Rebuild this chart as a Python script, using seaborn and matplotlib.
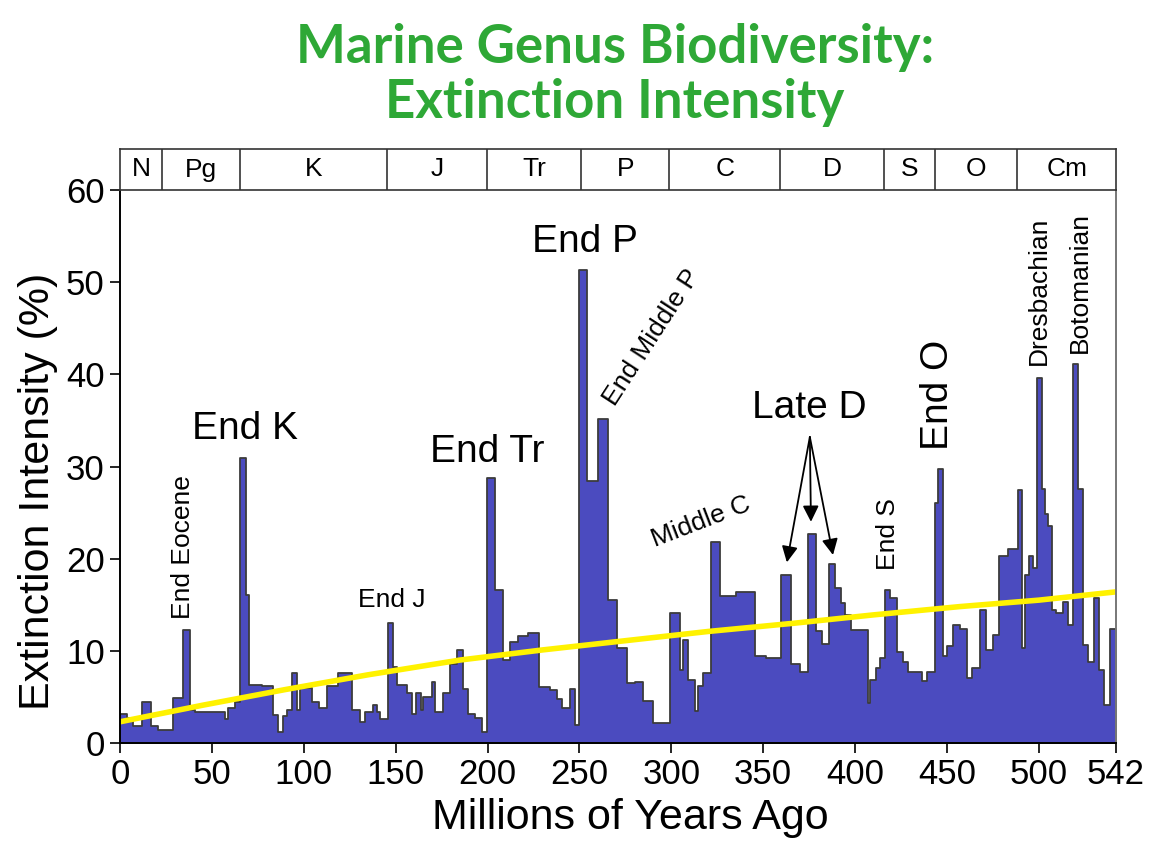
import matplotlib
matplotlib.use("Agg")
import matplotlib.pyplot as plt
import seaborn as sns
import numpy as np

# Stage boundaries (Ma) and extinction intensity (%) per interval
stage_edges = [0, 3.6, 7.3, 11.8, 16.7, 20.9, 29, 34.5, 38.1, 40.8, 57.1, 59, 62.6, 65.3,
               68.6, 70.4, 77.1, 83.4, 86, 88.9, 90.7, 93.4, 96.1, 97.9, 104.3, 108.4, 112.4,
               118.8, 126, 130.6, 133.3, 137.8, 139.7, 141.5, 145.6, 148.7, 150.9, 156, 158.7,
               161.1, 163.6, 165.1, 169.6, 171.4, 175.9, 179.5, 183.2, 186.8, 189.5, 193.1,
               196.8, 199.5, 204, 208.6, 212.2, 216.8, 222.2, 228.2, 234, 237.9, 240.4, 244.9,
               247.6, 250, 254.3, 260.3, 265.7, 270.2, 275.7, 280, 284.7, 290.2, 299.2, 304.7,
               306.5, 309, 312.7, 314.5, 317.2, 321.8, 326.3, 335.4, 345.4, 351.8, 359.6, 364.9,
               370, 374.5, 378.7, 382.1, 385.7, 389, 392.1, 394.4, 398, 407.1, 408.4, 411.3,
               413.5, 416.2, 419, 423, 426.2, 428.9, 436.2, 439, 443.5, 445.3, 447.7, 449.9,
               453.5, 457, 460.7, 463.4, 467.9, 471.5, 475.2, 478.4, 483.3, 488.8, 490.6, 492.4,
               494.8, 497, 499.1, 501.5, 503.3, 504.8, 507, 509.3, 513.3, 516, 518.8, 521.5,
               524.3, 527, 530.1, 532.5, 535.2, 538.5, 542]
intensity = [3.2, 2.7, 1.8, 4.5, 1.8, 1.4, 4.85, 12.3, 3.6, 3.4, 2.6, 3.8, 4.4,
             30.9, 16.1, 6.3, 6.2, 3.0, 1.2, 2.9, 3.6, 7.6, 3.6, 6.0, 4.5, 3.8,
             6.2, 7.6, 3.6, 2.3, 3.4, 4.1, 3.4, 2.6, 13.0, 8.3, 6.3, 5.4,
             3.2, 5.4, 3.6, 5.0, 6.6, 3.4, 5.4, 8.6, 10.1, 5.9, 3.2,
             2.7, 1.2, 28.7, 16.6, 9.0, 11.0, 11.6, 11.9, 6.1, 5.8, 4.8, 3.8,
             5.9, 2.0, 51.3, 28.4, 35.2, 15.5, 10.3, 6.5, 6.6, 4.6, 2.2, 14.1,
             7.9, 11.2, 6.8, 3.5, 6.2, 7.6, 21.8, 15.9, 16.4, 9.4, 9.2, 18.2,
             8.6, 7.7, 22.7, 12.1, 10.7, 19.4, 16.8, 15.2, 13.9, 12.3, 4.3, 6.8,
             8.1, 9.2, 16.6, 15.7, 9.9, 8.8, 7.7, 6.7, 7.7, 26.0, 29.7, 9.4,
             10.5, 12.8, 12.4, 7.0, 8.1, 14.4, 10.1, 11.7, 20.3, 21.1, 27.4, 10.3,
             18.2, 20.3, 19.0, 39.6, 27.6, 24.9, 23.5, 14.4, 14.1, 15.3, 12.8, 41.1,
             27.6, 10.6, 8.8, 15.7, 7.9, 4.1, 12.4]
assert len(stage_edges) == len(intensity) + 1

# Yellow trend line
trend_age = [0, 45, 90, 135, 185, 230, 275, 320, 367, 410, 457, 500, 542]
trend_val = [2.3, 4.1, 5.8, 7.4, 9.0, 10.1, 11.1, 12.1, 13.0, 13.9, 14.8, 15.5, 16.4]

# Geologic periods
periods = ["N", "Pg", "K", "J", "Tr", "P", "C", "D", "S", "O", "Cm"]
period_edges = [0, 23, 65.5, 145.5, 199.6, 251, 299, 359.2, 416, 443.7, 488.3, 542]

xticks = [0, 50, 100, 150, 200, 250, 300, 350, 400, 450, 500, 542]
yticks = [0, 10, 20, 30, 40, 50, 60]

sns.set_style("ticks")
plt.rcParams['font.family'] = ['Liberation Sans', 'DejaVu Sans']
plt.rcParams.update({"text.color": "black", "axes.labelcolor": "black",
                     "xtick.color": "black", "ytick.color": "black"})

W, H = 1150, 843
fig = plt.figure(figsize=(W / 100, H / 100), dpi=100)
ax = fig.add_axes([120 / W, 1 - 743 / H, 996 / W, 553 / H])
pax = fig.add_axes([120 / W, 1 - 190 / H, 996 / W, 41 / H])

mids = [(a + b) / 2 for a, b in zip(stage_edges[:-1], stage_edges[1:])]
sns.histplot(x=mids, weights=intensity, bins=stage_edges, element="step", fill=True,
             color="#4b4bbf", edgecolor="#3c3c3c", linewidth=1.3, alpha=1, ax=ax)
sns.lineplot(x=trend_age, y=trend_val, color="#fff200", linewidth=4, ax=ax)

ax.set_xlim(0, 542)
ax.set_ylim(0, 60)
ax.set_xticks(xticks)
ax.set_yticks(yticks)
ax.tick_params(direction="out", length=7, width=1.2, labelsize=25, pad=4)
ax.set_xlabel("Millions of Years Ago", fontsize=31)
ax.set_ylabel("Extinction Intensity (%)", fontsize=31)
ax.xaxis.set_label_coords(0.512, -0.1)
ax.yaxis.set_label_coords(-0.062, 0.455)
for s in ["left", "bottom"]:
    ax.spines[s].set_color("black")
    ax.spines[s].set_linewidth(1.4)
ax.spines["top"].set_visible(False)
ax.spines["right"].set_color("#777777")
ax.spines["right"].set_linewidth(1.4)

# period bar
pax.set_xlim(0, 542)
pax.set_ylim(0, 1)
pax.set_xticks([])
pax.set_yticks([])
for s in pax.spines.values():
    s.set_color("#333333")
    s.set_linewidth(1.2)
for i, name in enumerate(periods):
    a, b = period_edges[i], period_edges[i + 1]
    if i > 0:
        pax.axvline(a, color="#333333", lw=1.2)
    pax.text((a + b) / 2, 0.5, name, ha="center", va="center", fontsize=19)

# annotations
big = 28
small = 19
ax.text(68, 33.0, "End K", ha="center", va="baseline", fontsize=big)
ax.text(200, 30.5, "End Tr", ha="center", va="baseline", fontsize=big)
ax.text(253, 53.3, "End P", ha="center", va="baseline", fontsize=big)
ax.text(375, 35.3, "Late D", ha="center", va="baseline", fontsize=big)
ax.text(445, 31.8, "End O", ha="center", va="bottom", rotation=90, fontsize=big)
ax.text(34.5, 13.5, "End Eocene", ha="center", va="bottom", rotation=90, fontsize=small)
ax.text(148, 14.8, "End J", ha="center", va="baseline", fontsize=small)
ax.text(289.5, 44, "End Middle P", ha="center", va="center", rotation=57, fontsize=small)
ax.text(316, 24, "Middle C", ha="center", va="center", rotation=21, fontsize=small)
ax.text(417.8, 18.8, "End S", ha="center", va="bottom", rotation=90, fontsize=small)
ax.text(500, 41.0, "Dresbachian", ha="center", va="bottom", rotation=90, fontsize=small)
ax.text(522.3, 42.3, "Botomanian", ha="center", va="bottom", rotation=90, fontsize=small)

origin = (375.4, 33.2)
for tip in [(362.9, 19.6), (376, 24.0), (388, 20.4)]:
    ax.annotate("", xy=tip, xytext=origin,
                arrowprops=dict(arrowstyle="-|>", color="black", lw=1.3,
                                mutation_scale=24, shrinkA=0, shrinkB=0))

fig.text(615 / W, 1 - 75 / H, "Marine Genus Biodiversity:\nExtinction Intensity",
         ha="center", va="center", fontsize=38, fontweight="bold", family="Lato",
         color="#2ea836", linespacing=1.15)

fig.savefig("out.png", dpi=100)
